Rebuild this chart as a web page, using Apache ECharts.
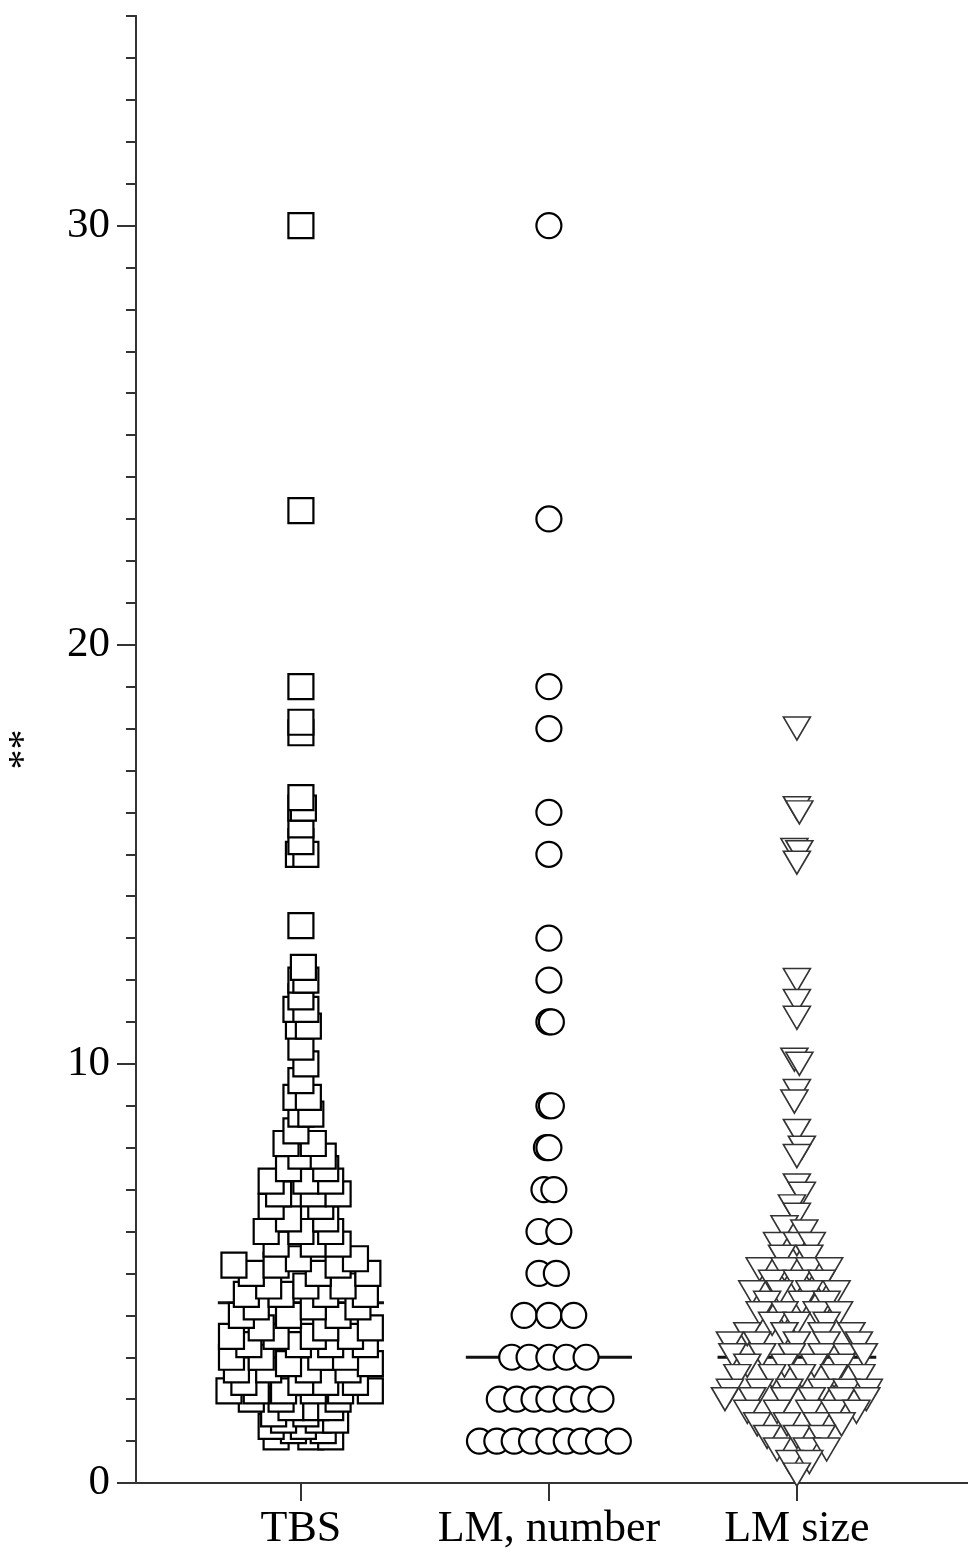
<!DOCTYPE html>
<html>
<head>
<meta charset="utf-8">
<script src="https://cdn.jsdelivr.net/npm/echarts@6/dist/echarts.min.js"></script>
<style>html,body{margin:0;padding:0;background:#fff;}#c{width:968px;height:1558px;}</style>
</head>
<body>
<div id="c"></div>
<script>
// Categories and tick labels
const categories = ['TBS', 'LM, number', 'LM size'];
const yTickLabels = [0, 10, 20, 30];
const yMax = 35;

// Medians (horizontal bars)
const medians = [4.3, 3.0, 3.0];

// Points: [value, horizontal jitter in category units]
const tbsPoints = [
  [1.1,-0.1],[1.1,0.04],[1.1,0.12],
  [1.25,-0.03],[1.25,0.09],
  [1.35,-0.12],[1.35,0.01],
  [1.5,-0.07],[1.5,0.07],[1.5,0.14],
  [1.65,-0.11],[1.65,0.02],
  [1.8,-0.04],[1.8,0.06],[1.8,0.12],
  [2.0,-0.2],[2.0,-0.08],[2.0,0.15],
  [2.2,-0.29],[2.2,-0.18],[2.2,-0.07],[2.2,0.05],[2.2,0.16],[2.2,0.28],
  [2.4,-0.23],[2.4,0.0],[2.4,0.1],[2.4,0.22],
  [2.7,-0.26],[2.7,-0.13],[2.7,0.03],[2.7,0.19],
  [2.85,-0.05],[2.85,0.28],
  [3.0,-0.28],[3.0,-0.16],[3.0,0.08],[3.0,0.18],
  [3.3,-0.21],[3.3,-0.01],[3.3,0.12],[3.3,0.26],
  [3.5,-0.28],[3.5,-0.1],[3.5,0.05],[3.5,0.2],
  [3.7,-0.16],[3.7,0.1],[3.7,0.28],
  [4.0,-0.24],[4.0,-0.05],[4.0,0.15],
  [4.2,-0.18],[4.2,0.05],[4.2,0.23],
  [4.5,-0.22],[4.5,-0.08],[4.5,0.1],[4.5,0.26],
  [4.7,-0.13],[4.7,0.02],[4.7,0.17],
  [5.0,-0.2],[5.0,0.07],[5.0,0.27],
  [5.2,-0.27],[5.2,-0.1],[5.2,0.15],
  [5.35,-0.01],[5.35,0.22],
  [5.7,-0.1],[5.7,0.05],[5.7,0.15],
  [6.0,-0.14],[6.0,0.0],[6.0,0.12],
  [6.3,-0.05],[6.3,0.1],
  [6.6,-0.12],[6.6,0.08],
  [6.9,-0.09],[6.9,0.05],[6.9,0.15],
  [7.2,-0.12],[7.2,0.02],[7.2,0.12],
  [7.5,-0.05],[7.5,0.1],
  [7.8,0.0],[7.8,0.09],
  [8.1,-0.06],[8.1,0.05],
  [8.4,-0.02],
  [8.8,0.0],[8.8,0.04],
  [9.2,-0.02],[9.2,0.03],
  [9.6,0.0],
  [10.0,0.02],
  [10.4,0.0],
  [10.9,-0.01],[10.9,0.03],
  [11.3,-0.02],[11.3,0.02],
  [11.6,0.0],
  [12.0,0.0],[12.0,0.02],
  [12.3,0.01],
  [13.3,0.0],
  [15.0,-0.01],[15.0,0.02],
  [15.3,0.0],
  [15.7,0.0],
  [16.1,0.0],[16.1,0.01],
  [16.35,0.0],
  [17.9,0.0],
  [18.15,0.0],
  [19.0,0.0],
  [23.2,0.0],
  [30.0,0.0]
];

const lmNumberPoints = [
  [1,-0.28],[1,-0.21],[1,-0.14],[1,-0.07],[1,0.0],[1,0.07],[1,0.13],[1,0.2],[1,0.28],
  [2,-0.2],[2,-0.13],[2,-0.06],[2,0.0],[2,0.07],[2,0.14],[2,0.21],
  [3,-0.15],[3,-0.08],[3,0.0],[3,0.07],[3,0.15],
  [4,-0.1],[4,0.0],[4,0.1],
  [5,-0.04],[5,0.03],
  [6,-0.04],[6,0.04],
  [7,-0.02],[7,0.02],
  [8,-0.01],[8,0.0],
  [9,0.0],[9,0.01],
  [11,0.0],[11,0.01],
  [12,0.0],
  [13,0.0],
  [15,0.0],
  [16,0.0],
  [18,0.0],
  [19,0.0],
  [23,0.0],
  [30,0.0]
];

const lmSizePoints = [
  [18.0,0.0],
  [16.1,0.0],[16.0,0.01],
  [15.1,-0.01],[15.05,0.01],
  [14.8,0.0],
  [12.0,0.0],
  [11.5,0.0],
  [11.1,0.0],
  [10.1,-0.01],[10.0,0.01],
  [9.35,0.0],
  [9.1,-0.01],
  [8.4,0.0],
  [8.0,0.02],
  [7.8,0.0],
  [7.1,0.0],[6.9,0.02],
  [6.6,-0.02],
  [6.4,0.0],
  [6.1,-0.05],[6.0,0.03],
  [5.7,-0.08],[5.7,0.0],[5.7,0.06],
  [5.4,-0.06],[5.4,0.05],
  [5.1,-0.15],[5.1,-0.05],[5.1,0.05],[5.1,0.13],
  [4.8,-0.1],[4.8,0.0],[4.8,0.1],
  [4.55,-0.18],[4.55,-0.07],[4.55,0.05],[4.55,0.16],
  [4.3,-0.12],[4.3,0.02],[4.3,0.12],
  [4.05,-0.15],[4.05,-0.05],[4.05,0.08],[4.05,0.17],
  [3.8,-0.1],[3.8,0.0],[3.8,0.12],
  [3.55,-0.2],[3.55,-0.05],[3.55,0.1],[3.55,0.22],
  [3.33,-0.27],[3.33,-0.16],[3.33,0.0],[3.33,0.12],[3.33,0.25],
  [3.05,-0.26],[3.05,-0.14],[3.05,-0.02],[3.05,0.1],[3.05,0.2],[3.05,0.27],
  [2.8,-0.2],[2.8,-0.05],[2.8,0.07],[2.8,0.18],
  [2.55,-0.24],[2.55,-0.1],[2.55,0.02],[2.55,0.15],[2.55,0.26],
  [2.2,-0.27],[2.2,-0.15],[2.2,-0.03],[2.2,0.1],[2.2,0.2],[2.2,0.29],
  [2.0,-0.29],[2.0,-0.18],[2.0,-0.05],[2.0,0.06],[2.0,0.18],[2.0,0.28],
  [1.7,-0.2],[1.7,-0.08],[1.7,0.05],[1.7,0.15],[1.7,0.24],
  [1.4,-0.16],[1.4,-0.04],[1.4,0.08],[1.4,0.18],
  [1.1,-0.12],[1.1,0.0],[1.1,0.1],
  [0.8,-0.08],[0.8,0.04],[0.8,0.12],
  [0.5,-0.03],[0.5,0.05],
  [0.2,0.0]
];

const groups = [tbsPoints, lmNumberPoints, lmSizePoints];
const medianHalfWidth = [0.335, 0.335, 0.32];

const serif = '"Liberation Serif","DejaVu Serif",serif';
const axisColor = '#333';
const textColor = '#000';

function toXY(points, catIndex) {
  const c = catIndex + 1;
  return points.map(p => [c + p[1], p[0]]);
}

const symbolStyles = [
  { symbol: 'rect', symbolSize: 25, itemStyle: { color: '#fff', borderColor: '#000', borderWidth: 2.2, opacity: 1 } },
  { symbol: 'circle', symbolSize: 25, itemStyle: { color: '#fff', borderColor: '#000', borderWidth: 2.2, opacity: 1 } },
  { symbol: 'triangle', symbolSize: [27, 23], symbolRotate: 180, itemStyle: { color: '#fff', borderColor: '#333', borderWidth: 1.6, opacity: 1 } }
];

const series = [];
groups.forEach((pts, i) => {
  series.push({
    type: 'line',
    data: [[i + 1 - medianHalfWidth[i], medians[i]], [i + 1 + medianHalfWidth[i], medians[i]]],
    symbol: 'none',
    lineStyle: { color: '#111', width: 3 },
    z: 1,
    silent: true
  });
  series.push(Object.assign({
    type: 'scatter',
    name: categories[i],
    data: toXY(pts, i),
    z: 2,
    silent: true
  }, symbolStyles[i]));
});

const chart = echarts.init(document.getElementById('c'), null, { renderer: 'canvas' });
chart.setOption({
  animation: false,
  backgroundColor: '#fff',
  grid: { left: 136, right: 0, top: 16, bottom: 75, containLabel: false, outerBoundsMode: 'none' },
  xAxis: {
    type: 'value',
    min: 0.335,
    max: 3.69,
    splitLine: { show: false },
    axisLine: { show: true, lineStyle: { color: axisColor, width: 2 } },
    axisTick: { show: true, customValues: [1, 2, 3], length: 18, lineStyle: { color: axisColor, width: 2 } },
    axisLabel: {
      customValues: [1, 2, 3],
      formatter: v => categories[Math.round(v) - 1] || '',
      fontFamily: serif, fontSize: 44, color: textColor, margin: 24
    }
  },
  yAxis: [
    {
      type: 'value',
      min: 0, max: yMax, interval: 10,
      position: 'left',
      name: '**',
      nameLocation: 'middle',
      nameRotate: 90,
      nameGap: 92,
      nameTextStyle: { fontFamily: serif, fontSize: 40, color: textColor },
      splitLine: { show: false },
      axisLine: { show: true, lineStyle: { color: axisColor, width: 2 } },
      axisTick: { show: true, customValues: yTickLabels, length: 19, lineStyle: { color: axisColor, width: 2 } },
      axisLabel: { customValues: yTickLabels, fontFamily: serif, fontSize: 43, color: textColor, margin: 26 }
    },
    {
      type: 'value',
      min: 0, max: yMax, interval: 1,
      position: 'left',
      splitLine: { show: false },
      axisLine: { show: true, lineStyle: { color: axisColor, width: 2 } },
      axisTick: { show: true, length: 10, lineStyle: { color: axisColor, width: 2 } },
      axisLabel: { show: false }
    }
  ],
  series: series
});
</script>
</body>
</html>
